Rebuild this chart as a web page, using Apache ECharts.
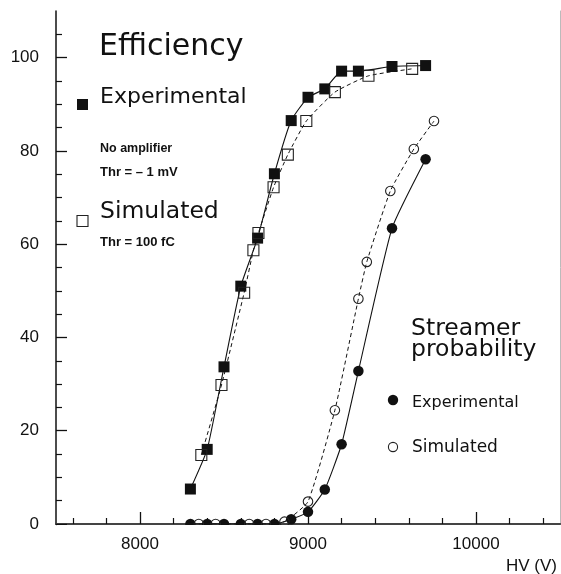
<!DOCTYPE html>
<html>
<head>
<meta charset="utf-8">
<script src="https://cdn.jsdelivr.net/npm/echarts@6/dist/echarts.min.js"></script>
<style>
html,body{margin:0;padding:0;background:#fff;}
#chart{width:561px;height:574px;}
</style>
</head>
<body>
<div id="chart"></div>
<script>
// ---- data ----
var effExpX = [8300, 8400, 8500, 8600, 8700, 8800, 8900, 9000, 9100, 9200, 9300, 9500, 9700];
var effExpY = [7.5, 16.0, 33.7, 51.0, 61.3, 75.1, 86.5, 91.5, 93.3, 97.1, 97.1, 98.1, 98.3];
var effSimX = [8365, 8485, 8620, 8675, 8705, 8795, 8880, 8990, 9160, 9360, 9620];
var effSimY = [14.8, 29.8, 49.6, 58.7, 62.4, 72.2, 79.2, 86.4, 92.6, 96.1, 97.6];
var strExpX = [8300, 8400, 8500, 8600, 8700, 8800, 8900, 9000, 9100, 9200, 9300, 9500, 9700];
var strExpY = [0, 0, 0, 0, 0, 0, 1.0, 2.6, 7.4, 17.1, 32.8, 63.4, 78.2];
var strSimX = [8350, 8450, 8650, 8750, 8860, 9000, 9160, 9300, 9350, 9490, 9630, 9750];
var strSimY = [0, 0, 0, 0, 0.5, 4.8, 24.4, 48.3, 56.2, 71.4, 80.4, 86.4];

var xMajorTicks = [8000, 9000, 10000];
var xMinorTicks = [7600, 7800, 8200, 8400, 8600, 8800, 9200, 9400, 9600, 9800, 10200, 10400];
var yMajorTicks = [0, 20, 40, 60, 80, 100];
var yMinorTicks = [5, 10, 15, 25, 30, 35, 45, 50, 55, 65, 70, 75, 85, 90, 95, 105];

function pairs(xs, ys) { return xs.map(function (x, i) { return [x, ys[i]]; }); }

var chart = echarts.init(document.getElementById('chart'), null, {renderer: 'canvas'});
var ink = '#111';
var labelFont = 'Liberation Sans, Arial, sans-serif';
var annFont = 'DejaVu Sans, sans-serif';
function plain(v) { return String(v); }

function solidSeries(data, sym, size) {
  return {
    type: 'line', data: data, symbol: sym, symbolSize: size, smooth: 0.15,
    xAxisIndex: 0, yAxisIndex: 0,
    lineStyle: {color: ink, width: 1.1, type: 'solid'},
    itemStyle: {color: ink, borderColor: ink, borderWidth: 0},
    emphasis: {disabled: true}, z: 3
  };
}
function dashedSeries(data, sym, size) {
  return {
    type: 'line', data: data, symbol: sym, symbolSize: size, smooth: 0.15,
    xAxisIndex: 0, yAxisIndex: 0,
    lineStyle: {color: ink, width: 1, type: [4, 3]},
    itemStyle: {color: 'rgba(0,0,0,0)', borderColor: '#222', borderWidth: 1.1},
    emphasis: {disabled: true}, z: 4
  };
}

var option = {
  animation: false,
  backgroundColor: '#fff',
  grid: {left: 56, right: 1, top: 11, bottom: 50, containLabel: false},
  xAxis: [
    {type: 'value', min: 7500, max: 10500, position: 'bottom',
     axisLine: {show: true, lineStyle: {color: ink, width: 1.5}},
     axisTick: {show: true, inside: true, length: 12, customValues: xMajorTicks, lineStyle: {color: ink, width: 1.3}},
     axisLabel: {show: true, customValues: xMajorTicks, formatter: plain, fontSize: 17, color: ink, fontFamily: labelFont, margin: 12},
     splitLine: {show: false}},
    {type: 'value', min: 7500, max: 10500, position: 'bottom',
     axisLine: {show: false},
     axisTick: {show: true, inside: true, length: 6, customValues: xMinorTicks, lineStyle: {color: ink, width: 1.2}},
     axisLabel: {show: false}, splitLine: {show: false}},
    {type: 'value', min: 7500, max: 10500, position: 'top',
     axisLine: {show: true, lineStyle: {color: '#444', width: 2}},
     axisTick: {show: false}, axisLabel: {show: false}, splitLine: {show: false}}
  ],
  yAxis: [
    {type: 'value', min: 0, max: 110, position: 'left',
     axisLine: {show: true, lineStyle: {color: ink, width: 1.5}},
     axisTick: {show: true, inside: true, length: 11, customValues: yMajorTicks, lineStyle: {color: ink, width: 1.3}},
     axisLabel: {show: true, customValues: yMajorTicks, formatter: plain, fontSize: 17, color: ink, fontFamily: labelFont, margin: 17},
     splitLine: {show: false}},
    {type: 'value', min: 0, max: 110, position: 'left',
     axisLine: {show: false},
     axisTick: {show: true, inside: true, length: 6, customValues: yMinorTicks, lineStyle: {color: ink, width: 1.2}},
     axisLabel: {show: false}, splitLine: {show: false}},
    {type: 'value', min: 0, max: 110, position: 'right',
     axisLine: {show: true, lineStyle: {color: '#bbb', width: 1}},
     axisTick: {show: false}, axisLabel: {show: false}, splitLine: {show: false}}
  ],
  series: [
    solidSeries(pairs(effExpX, effExpY), 'rect', 11),
    dashedSeries(pairs(effSimX, effSimY), 'rect', 11),
    solidSeries(pairs(strExpX, strExpY), 'circle', 10.5),
    dashedSeries(pairs(strSimX, strSimY), 'circle', 9.5)
  ],
  graphic: [
    // mask under the x axis so the points at 0 appear cut by the axis
    {type: 'rect', shape: {x: 57, y: 525, width: 503, height: 8}, style: {fill: '#fff'}, z: 100, silent: true},
    {type: 'text', x: 99, y: 47, style: {text: 'Efficiency', font: '30px ' + annFont, fill: ink, verticalAlign: 'middle'}, z: 101},
    {type: 'rect', shape: {x: 77, y: 99, width: 11, height: 11}, style: {fill: ink}, z: 101},
    {type: 'text', x: 100, y: 97, style: {text: 'Experimental', font: '22px ' + annFont, fill: ink, verticalAlign: 'middle'}, z: 101},
    {type: 'text', x: 100, y: 149, style: {text: 'No amplifier', font: 'bold 12.5px ' + labelFont, fill: ink, verticalAlign: 'middle'}, z: 101},
    {type: 'text', x: 100, y: 172, style: {text: 'Thr = \u2013 1 mV', font: 'bold 13px ' + labelFont, fill: ink, verticalAlign: 'middle'}, z: 101},
    {type: 'rect', shape: {x: 77, y: 215.5, width: 11, height: 11}, style: {fill: 'none', stroke: '#222', lineWidth: 1.1}, z: 101},
    {type: 'text', x: 100, y: 212, style: {text: 'Simulated', font: '23.5px ' + annFont, fill: ink, verticalAlign: 'middle'}, z: 101},
    {type: 'text', x: 100, y: 242, style: {text: 'Thr = 100 fC', font: 'bold 13px ' + labelFont, fill: ink, verticalAlign: 'middle'}, z: 101},
    {type: 'text', x: 411, y: 329, style: {text: 'Streamer', font: '23.5px ' + annFont, fill: ink, verticalAlign: 'middle'}, z: 101},
    {type: 'text', x: 411, y: 350, style: {text: 'probability', font: '23.5px ' + annFont, fill: ink, verticalAlign: 'middle'}, z: 101},
    {type: 'circle', shape: {cx: 393, cy: 400, r: 5.2}, style: {fill: ink}, z: 101},
    {type: 'text', x: 412, y: 403, style: {text: 'Experimental', font: '16px ' + annFont, fill: ink, verticalAlign: 'middle'}, z: 101},
    {type: 'circle', shape: {cx: 393, cy: 447, r: 4.6}, style: {fill: 'none', stroke: '#222', lineWidth: 1.1}, z: 101},
    {type: 'text', x: 412, y: 448, style: {text: 'Simulated', font: '17px ' + annFont, fill: ink, verticalAlign: 'middle'}, z: 101},
    {type: 'text', x: 557, y: 566, style: {text: 'HV (V)', font: '17px ' + labelFont, fill: ink, align: 'right', verticalAlign: 'middle'}, z: 101}
  ]
};
chart.setOption(option);
</script>
</body>
</html>
